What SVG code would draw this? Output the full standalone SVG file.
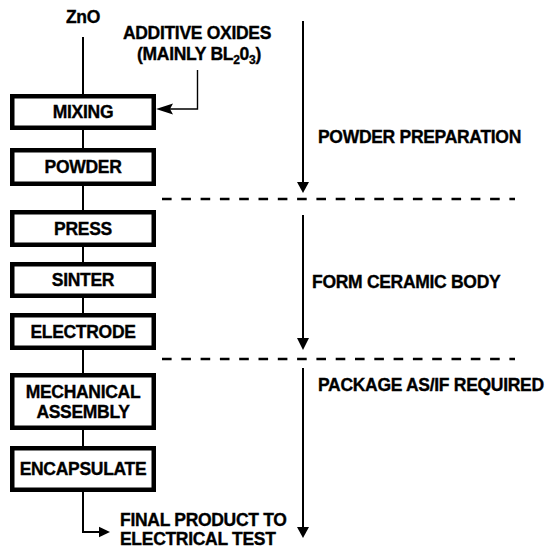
<svg xmlns="http://www.w3.org/2000/svg" width="545" height="548" viewBox="0 0 545 548">
<style>
  .t { font-family: "Liberation Sans", Arial, Helvetica, sans-serif; font-weight: bold; font-size: 17.5px; letter-spacing: -0.3px; fill: #000; stroke: #000; stroke-width: 0.35; }
  .m { text-anchor: middle; }
  .box { fill: #fff; stroke: #000; stroke-width: 4.5; }
  .ln { fill: none; stroke: #000; stroke-width: 2; }
  .thin { fill: none; stroke: #000; stroke-width: 1.4; }
  .dash { fill: none; stroke: #000; stroke-width: 2.3; stroke-dasharray: 9.6 9.7; }
  .ah { fill: #000; stroke: none; }
</style>
<rect width="545" height="548" fill="#fff"/>
<g id="connectors">
  <path class="ln" d="M83 37 V96"/>
  <path class="ln" d="M83 130 V150"/>
  <path class="ln" d="M83 186 V212"/>
  <path class="ln" d="M83 247 V264"/>
  <path class="ln" d="M83 298 V315"/>
  <path class="ln" d="M83 350 V375"/>
  <path class="ln" d="M83 430 V448"/>
  <path class="ln" d="M83 492 V532 H100"/>
  <path class="ah" d="M110 532 L99 526.8 L99 537.2 Z"/>
  <path class="thin" d="M197.5 70 V109 H168"/>
  <path class="ah" d="M156 109 L173 103.5 L170 109 L173 114.5 Z"/>
  <path class="ln" d="M303 21 V184"/>
  <path class="ah" d="M303 193 L297 182 L309 182 Z"/>
  <path class="ln" d="M303 215 V340"/>
  <path class="ah" d="M303 350 L297 338 L309 338 Z"/>
  <path class="ln" d="M303 368 V528"/>
  <path class="ah" d="M303 538 L297 527 L309 527 Z"/>
  <path class="dash" d="M162 199 H515"/>
  <path class="dash" d="M162 359 H515"/>
</g>
<g id="zno"><text class="t m" x="83" y="23">ZnO</text></g>
<g id="additive">
  <text class="t m" x="197" y="39">ADDITIVE OXIDES</text>
  <text class="t m" x="199" y="60">(MAINLY BL<tspan font-size="12" dy="4">2</tspan><tspan dy="-4">0</tspan><tspan font-size="12" dy="4">3</tspan><tspan dy="-4">)</tspan></text>
</g>
<g id="mixing"><rect class="box" x="12.25" y="96.25" width="141.5" height="31.5"/><text class="t m" x="83" y="118">MIXING</text></g>
<g id="powder"><rect class="box" x="12.25" y="150.25" width="141.5" height="33.5"/><text class="t m" x="83" y="173">POWDER</text></g>
<g id="press"><rect class="box" x="12.25" y="212.25" width="141.5" height="32.5"/><text class="t m" x="83" y="234.5">PRESS</text></g>
<g id="sinter"><rect class="box" x="12.25" y="264.25" width="141.5" height="31.5"/><text class="t m" x="83" y="286">SINTER</text></g>
<g id="electrode"><rect class="box" x="12.25" y="315.25" width="141.5" height="32.5"/><text class="t m" x="83" y="337.5">ELECTRODE</text></g>
<g id="mechanical"><rect class="box" x="12.25" y="375.25" width="141.5" height="52.5"/><text class="t m" x="83" y="398">MECHANICAL</text><text class="t m" x="83" y="418">ASSEMBLY</text></g>
<g id="encapsulate"><rect class="box" x="12.25" y="448.25" width="141.5" height="41.5"/><text class="t m" x="83" y="475">ENCAPSULATE</text></g>
<g id="final"><text class="t" x="120" y="526">FINAL PRODUCT TO</text><text class="t" x="120" y="544.5">ELECTRICAL TEST</text></g>
<g id="phase1"><text class="t" x="318" y="143">POWDER PREPARATION</text></g>
<g id="phase2"><text class="t" x="312" y="288">FORM CERAMIC BODY</text></g>
<g id="phase3"><text class="t" x="318" y="391">PACKAGE AS/IF REQUIRED</text></g>
</svg>
